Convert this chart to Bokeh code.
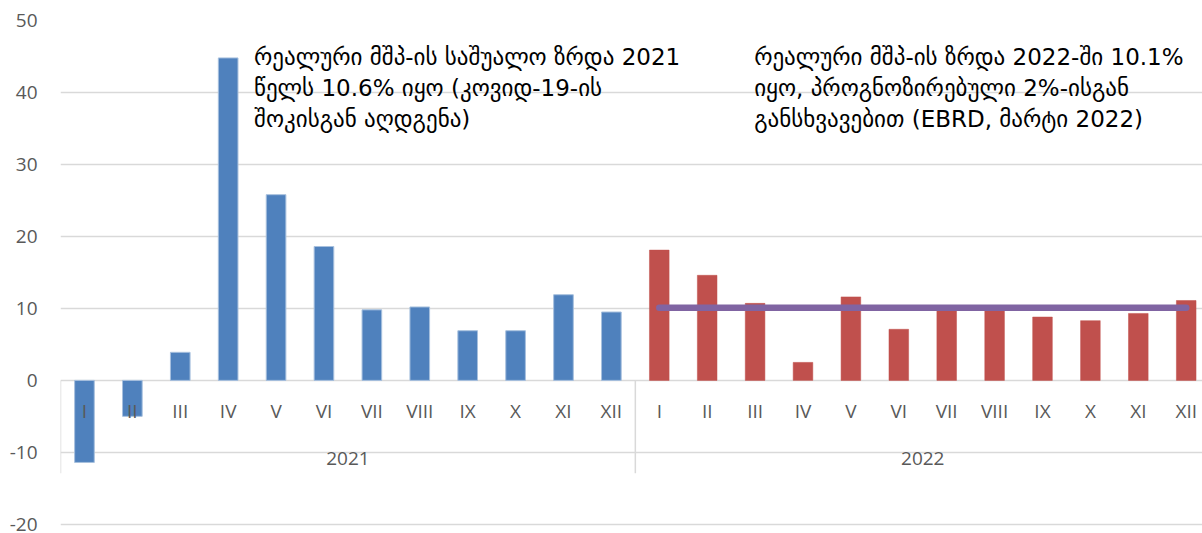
from bokeh.plotting import figure
from bokeh.models import Range1d, FixedTicker, PrintfTickFormatter
from bokeh.core.properties import value
from bokeh.embed import file_html
from bokeh.resources import INLINE

# ---- data ----
months = ["I", "II", "III", "IV", "V", "VI", "VII", "VIII", "IX", "X", "XI", "XII"]
years = ["2021", "2022"]
growth_2021 = [-11.4, -5.0, 3.9, 44.8, 25.8, 18.6, 9.8, 10.2, 6.9, 6.9, 11.9, 9.5]
growth_2022 = [18.1, 14.6, 10.7, 2.5, 11.6, 7.1, 10.0, 10.4, 8.8, 8.3, 9.3, 11.1]
avg_2022 = 10.1
y_ticks = [-20, -10, 0, 10, 20, 30, 40, 50]
note_2021 = ["რეალური მშპ-ის საშუალო ზრდა 2021",
             "წელს 10.6% იყო (კოვიდ-19-ის",
             "შოკისგან აღდგენა)"]
note_2022 = ["რეალური მშპ-ის ზრდა 2022-ში 10.1%",
             "იყო, პროგნოზირებული 2%-ისგან",
             "განსხვავებით (EBRD, მარტი 2022)"]

n = len(months)
x21 = [i + 0.5 for i in range(n)]
x22 = [n + i + 0.5 for i in range(n)]

p = figure(width=1202, height=533, output_backend="svg", toolbar_location=None,
           x_range=Range1d(0, 23.84), y_range=Range1d(-20.3, 50),
           min_border_left=60, min_border_right=0, min_border_top=20, min_border_bottom=7)
p.outline_line_color = None
p.background_fill_color = "white"
p.border_fill_color = "white"

p.xaxis.visible = False
p.xgrid.visible = False
p.ygrid.grid_line_color = "#D9D9D9"
p.ygrid.grid_line_width = 1.5
p.ygrid.ticker = FixedTicker(ticks=y_ticks)
p.yaxis.ticker = FixedTicker(ticks=y_ticks)
p.yaxis.formatter = PrintfTickFormatter(format="%d")
p.yaxis.axis_line_color = None
p.yaxis.major_tick_line_color = None
p.yaxis.minor_tick_line_color = None
p.yaxis.major_tick_out = 0
p.yaxis.major_tick_in = 0
p.yaxis.minor_tick_out = 0
p.yaxis.major_label_standoff = 23
p.yaxis.major_label_text_font = "Open Sans"
p.yaxis.major_label_text_font_size = "19px"
p.yaxis.major_label_text_color = "#595959"

# bars
p.vbar(x=x21, top=growth_2021, bottom=0, width=0.41, fill_color="#4F81BD", line_color="#A7C0DE", line_width=1)
p.vbar(x=x22, top=growth_2022, bottom=0, width=0.41, fill_color="#C0504D", line_color="#C0504D", line_width=0.5)

# average line for 2022
p.line(x=[x22[0], x22[-1]], y=[avg_2022, avg_2022], line_color="#8064A2", line_width=6.5, line_cap="round")

# category separators (multi-level axis)
for xs in [0, n, 2 * n]:
    p.segment(x0=[xs], y0=[0], x1=[xs], y1=[-12.9], line_color="#D9D9D9", line_width=1.5)

# month labels
p.text(x=x21 + x22, y=[-4.2] * (2 * n), text=months + months, text_align="center", text_baseline="middle",
       text_font=value("Open Sans"), text_font_size="19px", text_color="#595959")
# year labels
p.text(x=[n / 2, n + n / 2], y=[-10.8, -10.8], text=years, text_align="center", text_baseline="middle",
       text_font=value("Open Sans"), text_font_size="19px", text_color="#595959")

# annotations
ys = [44.9, 40.6, 36.3]
p.text(x=[4.04] * 3, y=ys, text=note_2021, text_align="left", text_baseline="alphabetic",
       text_font=value("DejaVu Sans"), text_font_size="23px", text_color="#000000")
p.text(x=[14.48] * 3, y=ys, text=note_2022, text_align="left", text_baseline="alphabetic",
       text_font=value("DejaVu Sans"), text_font_size="23px", text_color="#000000")

open("out.html", "w").write(file_html(p, INLINE))
